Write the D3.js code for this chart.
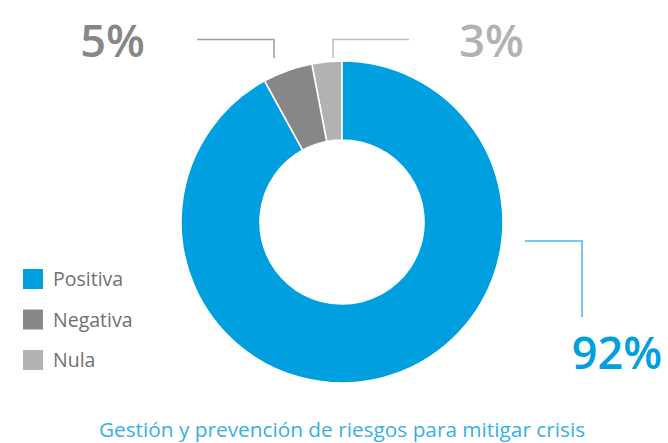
<!DOCTYPE html>
<html>
<head>
<meta charset="utf-8">
<script src="https://cdn.jsdelivr.net/npm/d3@7"></script>
<style>
  html, body { margin: 0; padding: 0; background: #fff; }
  svg { display: block; font-family: "Open Sans", "Noto Sans", sans-serif; }
</style>
</head>
<body>
<script>
// Survey results for the crisis-risk question
const categories = ["Positiva", "Negativa", "Nula"];
const values = [92, 5, 3];
const valueLabels = ["92%", "5%", "3%"];
const colors = ["#009fdf", "#878787", "#b2b2b2"];
const title = "Gestión y prevención de riesgos para mitigar crisis";

const W = 668, H = 443;
const cx = 342, cy = 222, outerR = 161, innerR = 82;

const svg = d3.select("body").append("svg").attr("width", W).attr("height", H);

const arc = d3.arc().innerRadius(innerR).outerRadius(outerR);

// Angles run counter-clockwise from 12 o'clock in reverse category order,
// so Positiva sweeps clockwise from the top and the small slices sit just left of it.
const pieRev = d3.pie().sort(null).value(d => d.v)
  .startAngle(0).endAngle(-2 * Math.PI);
const sliceData = categories.map((c, i) => ({ c, v: values[i], color: colors[i] })).reverse();

svg.append("g").attr("transform", `translate(${cx},${cy})`)
  .selectAll("path")
  .data(pieRev(sliceData))
  .join("path")
  .attr("d", arc)
  .attr("fill", d => d.data.color)
  .attr("stroke", "#fff")
  .attr("stroke-width", 1.6);

// Leader lines and value labels
const g = svg.append("g");
g.append("polyline")
  .attr("points", "525,241 582,241 582,317")
  .attr("fill", "none").attr("stroke", "#49b6e6").attr("stroke-width", 1.5);
g.append("polyline")
  .attr("points", "197,39.5 274,39.5 274,58")
  .attr("fill", "none").attr("stroke", "#9a9a9a").attr("stroke-width", 1.5);
g.append("polyline")
  .attr("points", "333,58 333,39.5 409,39.5")
  .attr("fill", "none").attr("stroke", "#bdbdbd").attr("stroke-width", 1.5);

const labelPos = [
  { x: 617, y: 369 },
  { x: 112.5, y: 57 },
  { x: 491.5, y: 57 }
];
g.selectAll("text.val")
  .data(valueLabels)
  .join("text")
  .attr("class", "val")
  .attr("x", (d, i) => labelPos[i].x)
  .attr("y", (d, i) => labelPos[i].y)
  .attr("text-anchor", "middle")
  .attr("font-size", 45)
  .attr("font-weight", 600)
  .attr("fill", (d, i) => colors[i])
  .text(d => d);

// Legend
const legend = svg.append("g").attr("transform", "translate(23,269)");
const item = legend.selectAll("g")
  .data(categories)
  .join("g")
  .attr("transform", (d, i) => `translate(0,${i * 40.5})`);
item.append("rect").attr("width", 20).attr("height", 20)
  .attr("fill", (d, i) => colors[i]);
item.append("text").attr("x", 30).attr("y", 17)
  .attr("font-size", 19.5).attr("fill", "#707070")
  .text(d => d);

// Title
svg.append("text")
  .attr("x", 342).attr("y", 437)
  .attr("text-anchor", "middle")
  .attr("font-size", 20.8)
  .attr("fill", "#3aafe3")
  .text(title);
</script>
</body>
</html>
